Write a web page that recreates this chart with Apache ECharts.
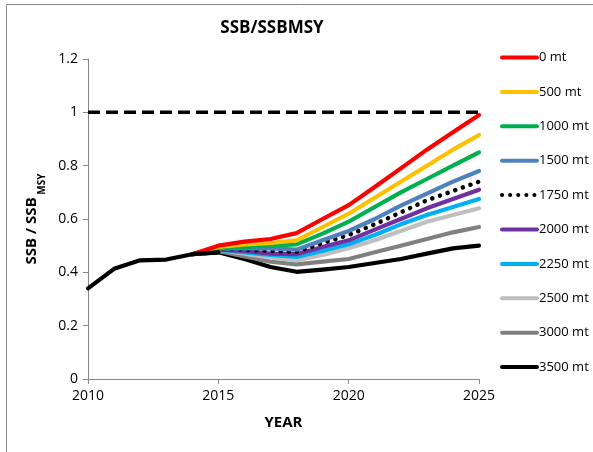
<!DOCTYPE html>
<html>
<head>
<meta charset="utf-8">
<script src="https://cdn.jsdelivr.net/npm/echarts@6/dist/echarts.min.js"></script>
<style>html,body{margin:0;padding:0;background:#fff}#c{width:593px;height:452px}</style>
</head>
<body>
<div id="c"></div>
<script>
var historyYears = [2010, 2011, 2012, 2013, 2014, 2015];
var historyValues = [0.34, 0.413, 0.445, 0.448, 0.468, 0.475];
var projYears = [2014, 2015, 2016, 2017, 2018, 2019, 2020, 2021, 2022, 2023, 2024, 2025];
var seriesNames = ['0 mt', '500 mt', '1000 mt', '1500 mt', '1750 mt', '2000 mt', '2250 mt', '2500 mt', '3000 mt', '3500 mt'];
var s0    = [0.468, 0.500, 0.515, 0.525, 0.547, 0.600, 0.652, 0.720, 0.790, 0.860, 0.925, 0.990];
var s500  = [0.468, 0.495, 0.505, 0.510, 0.520, 0.570, 0.620, 0.680, 0.740, 0.800, 0.860, 0.915];
var s1000 = [0.468, 0.490, 0.495, 0.500, 0.505, 0.545, 0.590, 0.645, 0.700, 0.750, 0.800, 0.850];
var s1500 = [0.468, 0.490, 0.490, 0.490, 0.485, 0.520, 0.555, 0.600, 0.650, 0.695, 0.740, 0.780];
var s1750 = [0.468, 0.490, 0.485, 0.480, 0.477, 0.510, 0.540, 0.580, 0.625, 0.670, 0.705, 0.740];
var s2000 = [0.468, 0.485, 0.480, 0.470, 0.468, 0.495, 0.520, 0.560, 0.600, 0.640, 0.675, 0.710];
var s2250 = [0.468, 0.485, 0.475, 0.465, 0.458, 0.480, 0.505, 0.540, 0.580, 0.615, 0.645, 0.675];
var s2500 = [0.468, 0.485, 0.470, 0.455, 0.445, 0.465, 0.490, 0.520, 0.555, 0.590, 0.615, 0.640];
var s3000 = [0.468, 0.480, 0.460, 0.440, 0.430, 0.440, 0.450, 0.475, 0.500, 0.525, 0.550, 0.570];
var s3500 = [0.468, 0.475, 0.450, 0.420, 0.402, 0.410, 0.420, 0.435, 0.450, 0.470, 0.490, 0.500];
var refYears = [2010, 2025];
var refValues = [1, 1];
var yTicks = [0, 0.2, 0.4, 0.6, 0.8, 1, 1.2];
var xTicks = [2010, 2015, 2020, 2025];

var projValues = [s0, s500, s1000, s1500, s1750, s2000, s2250, s2500, s3000, s3500];
var colors = ['#FF0000', '#FFC000', '#00B050', '#4F81BD', '#000000', '#7030A0', '#00B0F0', '#BFBFBF', '#808080', '#000000'];

function pairs(xs, ys) { return xs.map(function (x, i) { return [x, ys[i]]; }); }

var series = [];
series.push({
  name: 'ref', type: 'line', data: pairs(refYears, refValues), symbol: 'none', silent: true,
  lineStyle: { color: '#000', width: 3.5, type: [12, 6] }, z: 1
});
for (var i = projValues.length - 1; i >= 0; i--) {
  var ls = { color: colors[i], width: 4.2, cap: 'round', join: 'round' };
  if (seriesNames[i] === '1750 mt') { ls.type = [0.1, 8]; ls.width = 4.5; }
  series.push({
    name: seriesNames[i], type: 'line', data: pairs(projYears, projValues[i]), symbol: 'none',
    color: colors[i], lineStyle: ls, z: 10 - i + 2
  });
}
series.push({
  name: 'history', type: 'line', data: pairs(historyYears, historyValues), symbol: 'none',
  lineStyle: { color: '#000', width: 4.2, cap: 'round', join: 'round' }, z: 20
});

var chart = echarts.init(document.getElementById('c'), null, { renderer: 'canvas' });
chart.setOption({
  animation: false,
  backgroundColor: '#fff',
  title: {
    text: 'SSB/SSBMSY', left: 267, top: 15, textAlign: 'center',
    textStyle: { fontFamily: 'Open Sans', fontWeight: 'bold', fontSize: 17, color: '#000' }
  },
  graphic: [{
    type: 'rect', shape: { x: 6.5, y: 4.5, width: 620, height: 480 },
    style: { fill: 'none', stroke: '#888', lineWidth: 1 }, silent: true
  }],
  legend: {
    data: seriesNames.slice(), orient: 'vertical', left: 495, top: 46,
    itemWidth: 35, itemHeight: 14, itemGap: 21.4,
    itemStyle: { opacity: 0, borderWidth: 0 },
    lineStyle: { width: 4 },
    textStyle: { fontFamily: 'Open Sans', fontSize: 13, color: '#000', padding: [0, 0, 0, -3] }
  },
  grid: { left: 88, right: 114, top: 59, bottom: 73 },
  xAxis: {
    type: 'value', min: 2010, max: 2025, interval: 5,
    name: 'YEAR', nameLocation: 'middle', nameGap: 36,
    nameTextStyle: { fontFamily: 'Open Sans', fontWeight: 'bold', fontSize: 15, color: '#000' },
    axisLine: { lineStyle: { color: '#868686', width: 1 } },
    axisTick: { show: true, length: 5, lineStyle: { color: '#868686' } },
    splitLine: { show: false },
    axisLabel: { fontFamily: 'Open Sans', fontSize: 14, color: '#000', margin: 10,
      formatter: function (v) { return xTicks.indexOf(v) >= 0 ? String(v) : ''; } }
  },
  yAxis: {
    type: 'value', min: 0, max: 1.2, interval: 0.2,
    name: '{a|SSB / SSB}{b| MSY}', nameLocation: 'middle', nameGap: 40, nameRotate: 90,
    nameTextStyle: { rich: {
      a: { fontFamily: 'Open Sans', fontWeight: 'bold', fontSize: 15, color: '#000' },
      b: { fontFamily: 'Open Sans', fontWeight: 'bold', fontSize: 10, color: '#000', verticalAlign: 'bottom', padding: [0, 0, -8, 0] }
    } },
    axisLine: { show: true, lineStyle: { color: '#868686', width: 1 } },
    axisTick: { show: true, length: 5, lineStyle: { color: '#868686' } },
    splitLine: { show: false },
    axisLabel: { fontFamily: 'Open Sans', fontSize: 14, color: '#000', margin: 10,
      formatter: function (v) {
        for (var k = 0; k < yTicks.length; k++) { if (Math.abs(yTicks[k] - v) < 1e-6) return String(yTicks[k]); }
        return '';
      } }
  },
  series: series
});
</script>
</body>
</html>
